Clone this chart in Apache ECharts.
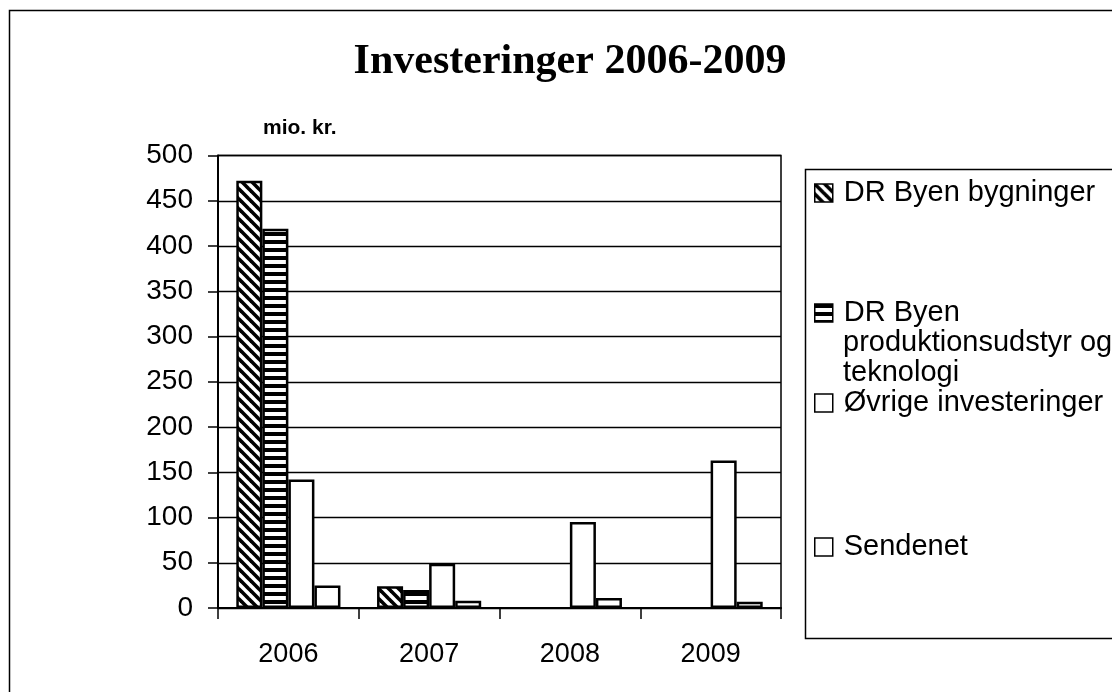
<!DOCTYPE html>
<html>
<head>
<meta charset="utf-8">
<script src="https://cdn.jsdelivr.net/npm/echarts@6/dist/echarts.min.js"></script>
<style>
html,body{margin:0;padding:0;background:#fff;}
#c{width:1112px;height:692px;}
</style>
</head>
<body>
<div id="c"></div>
<script>
// ---- data ----
const titleText = 'Investeringer 2006-2009';
const unitLabel = 'mio. kr.';
const categories = ['2006', '2007', '2008', '2009'];
const seriesNames = ['DR Byen bygninger', 'DR Byen produktionsudstyr og teknologi', 'Øvrige investeringer', 'Sendenet'];
const drByenBygninger = [472, 24, null, null];
const drByenProduktion = [419, 20, null, null];
const ovrigeInvesteringer = [142, 49, 95, 163];
const sendenet = [25, 8, 11, 7];
const yTicks = [0, 50, 100, 150, 200, 250, 300, 350, 400, 450, 500];

// ---- patterns ----
function diagPattern() {
  const c = document.createElement('canvas');
  c.width = 10; c.height = 10;
  const g = c.getContext('2d');
  g.fillStyle = '#fff'; g.fillRect(0, 0, 10, 10);
  g.strokeStyle = '#000'; g.lineWidth = 3.6;
  for (let k = -2; k <= 2; k++) {
    g.beginPath();
    g.moveTo(k * 10 - 5, -5);
    g.lineTo(k * 10 + 15, 15);
    g.stroke();
  }
  return c;
}
function horizPattern() {
  const c = document.createElement('canvas');
  c.width = 8; c.height = 8;
  const g = c.getContext('2d');
  g.fillStyle = '#fff'; g.fillRect(0, 0, 8, 8);
  g.fillStyle = '#000'; g.fillRect(0, 0, 8, 4);
  return c;
}
const fills = [
  { image: diagPattern(), repeat: 'repeat' },
  { image: horizPattern(), repeat: 'repeat' },
  '#fff',
  '#fff'
];
const seriesData = [drByenBygninger, drByenProduktion, ovrigeInvesteringer, sendenet];

const SANS = '"Liberation Sans", Arial, Helvetica, sans-serif';
const SERIF = '"Liberation Serif", "Times New Roman", serif';

const chart = echarts.init(document.getElementById('c'), null, { renderer: 'canvas' });

const legendCenters = [193, 313, 403, 547];
const legends = seriesNames.map((n, i) => ({
  data: [n],
  left: 814,
  top: legendCenters[i] - 15,
  padding: 0,
  orient: 'vertical',
  icon: 'rect',
  itemWidth: 18,
  itemHeight: 18,
  selectedMode: false,
  itemStyle: { borderColor: '#000', borderWidth: 1.5 },
  textStyle: { fontFamily: SANS, fontSize: 29, color: '#000', lineHeight: 30, padding: [0, 0, 0, 6] },
  formatter: function (name) { return name === seriesNames[1] ? 'DR Byen' : name; }
}));

const option = {
  animation: false,
  backgroundColor: '#fff',
  title: {
    text: titleText,
    left: 570,
    textAlign: 'center',
    top: 41,
    padding: 0,
    textStyle: { fontFamily: SERIF, fontWeight: 'bold', fontSize: 42, color: '#000' }
  },
  legend: legends,
  grid: {
    left: 218, right: 331, top: 155.5, bottom: 84,
    show: true, borderColor: '#000', borderWidth: 1.5, backgroundColor: 'transparent'
  },
  xAxis: {
    type: 'category',
    data: categories,
    axisLine: { lineStyle: { color: '#000', width: 2 } },
    axisTick: { show: true, length: 11, lineStyle: { color: '#000', width: 1.5 } },
    axisLabel: { fontFamily: SANS, fontSize: 27, color: '#000', margin: 33 },
    splitLine: { show: false }
  },
  yAxis: {
    type: 'value',
    min: 0, max: 500, interval: 50,
    name: unitLabel,
    nameLocation: 'end',
    nameGap: 27,
    nameTextStyle: { fontFamily: SANS, fontSize: 21, fontWeight: 'bold', color: '#000', align: 'left', verticalAlign: 'middle', padding: [0, 0, 0, 45] },
    axisLine: { show: true, lineStyle: { color: '#000', width: 2 } },
    axisTick: { show: true, length: 10, lineStyle: { color: '#000', width: 1.5 } },
    axisLabel: {
      fontFamily: SANS, fontSize: 28, color: '#000', margin: 25,
      formatter: function (v) { return yTicks.indexOf(v) >= 0 ? String(v) : ''; }
    },
    splitLine: { show: true, lineStyle: { color: '#000', width: 1.3 } }
  },
  series: seriesNames.map((n, i) => ({
    name: n,
    type: 'bar',
    data: seriesData[i],
    barGap: '0%',
    barCategoryGap: '26%',
    itemStyle: { color: fills[i], borderColor: '#000', borderWidth: 2.5 }
  })),
  graphic: [
    { type: 'rect', silent: true, z: -1, shape: { x: 9.5, y: 10.5, width: 1200, height: 800 }, style: { fill: 'none', stroke: '#000', lineWidth: 1.5 } },
    { type: 'rect', silent: true, z: -1, shape: { x: 805.5, y: 169.5, width: 400, height: 469 }, style: { fill: 'none', stroke: '#000', lineWidth: 1.5 } },
    { type: 'text', left: 843, top: 328, style: { text: 'produktionsudstyr og', font: '29px ' + SANS, fill: '#000' } },
    { type: 'text', left: 843, top: 358, style: { text: 'teknologi', font: '29px ' + SANS, fill: '#000' } }
  ]
};
chart.setOption(option);
</script>
</body>
</html>
